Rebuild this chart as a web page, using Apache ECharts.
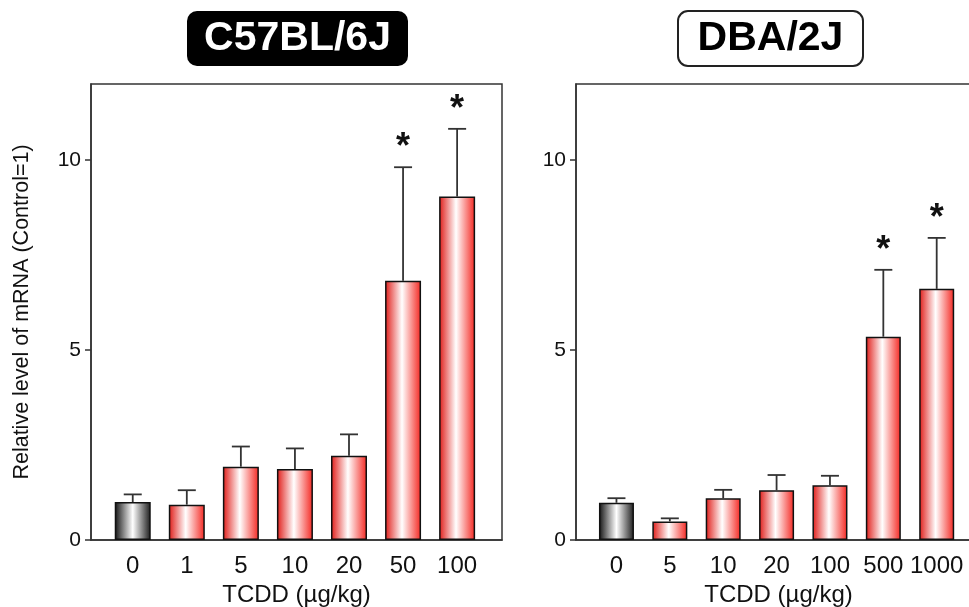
<!DOCTYPE html>
<html>
<head>
<meta charset="utf-8">
<script src="https://cdn.jsdelivr.net/npm/echarts@6/dist/echarts.min.js"></script>
<style>
html,body{margin:0;padding:0;background:#fff;}
#chart{width:969px;height:607px;}
</style>
</head>
<body>
<div id="chart"></div>
<script>
// ---- data ----
var leftTitle = 'C57BL/6J';
var rightTitle = 'DBA/2J';
var leftCategories = ['0', '1', '5', '10', '20', '50', '100'];
var leftMeans = [1.00, 0.93, 1.93, 1.87, 2.22, 6.82, 9.04];
var leftSD = [0.20, 0.38, 0.53, 0.54, 0.56, 2.99, 1.78];
var leftSig = [false, false, false, false, false, true, true];
var rightCategories = ['0', '5', '10', '20', '100', '500', '1000'];
var rightMeans = [0.98, 0.49, 1.10, 1.31, 1.44, 5.35, 6.61];
var rightSD = [0.12, 0.08, 0.22, 0.40, 0.25, 1.76, 1.34];
var rightSig = [false, false, false, false, false, true, true];
var yTicks = [0, 5, 10];
var yLabel = 'Relative level of mRNA (Control=1)';
var xLabel = 'TCDD (µg/kg)';

var FONT = '"Liberation Sans", Arial, sans-serif';
var chart = echarts.init(document.getElementById('chart'), null, {renderer: 'canvas'});

function redGrad() {
  return new echarts.graphic.LinearGradient(0, 0, 1, 0, [
    {offset: 0, color: '#e01a16'},
    {offset: 0.47, color: '#ffffff'},
    {offset: 1, color: '#f42620'}
  ]);
}
function blackGrad() {
  return new echarts.graphic.LinearGradient(0, 0, 1, 0, [
    {offset: 0, color: '#111111'},
    {offset: 0.5, color: '#ffffff'},
    {offset: 1, color: '#1a1a1a'}
  ]);
}

function barData(means) {
  return means.map(function (m, i) {
    return {
      value: [i, m],
      itemStyle: {color: i === 0 ? blackGrad() : redGrad()}
    };
  });
}
function errData(means, sd, sig) {
  return means.map(function (m, i) { return [i, m, m + sd[i], sig[i] ? 1 : 0]; });
}

function renderErr(params, api) {
  var x = api.value(0);
  var base = api.coord([x, api.value(1)]);
  var top = api.coord([x, api.value(2)]);
  var half = 9;
  var style = {stroke: '#333', lineWidth: 1.8};
  var children = [
    {type: 'line', shape: {x1: base[0], y1: base[1], x2: top[0], y2: top[1]}, style: style},
    {type: 'line', shape: {x1: top[0] - half, y1: top[1], x2: top[0] + half, y2: top[1]}, style: style}
  ];
  if (api.value(3) === 1) {
    children.push({
      type: 'text',
      style: {
        text: '*', x: top[0], y: top[1] - 1,
        textAlign: 'center', textVerticalAlign: 'bottom',
        fontSize: 36, fontWeight: 'bold', fontFamily: FONT, fill: '#111'
      }
    });
  }
  return {type: 'group', children: children};
}

function xAxisFor(gridIndex, cats, min) {
  return {
    type: 'value', gridIndex: gridIndex, min: min, max: 6.83,
    splitLine: {show: false},
    axisLine: {show: true, onZero: false, lineStyle: {color: '#333', width: 1.5}},
    axisTick: {show: false},
    axisLabel: {
      customValues: [0, 1, 2, 3, 4, 5, 6],
      formatter: function (v) { return cats[Math.round(v)]; },
      fontSize: 24, color: '#111', fontFamily: FONT, margin: 14
    },
    name: xLabel, nameLocation: 'middle', nameGap: 42,
    nameTextStyle: {fontSize: 24, color: '#111', fontFamily: FONT}
  };
}
function yAxisFor(gridIndex, withName) {
  var ax = {
    type: 'value', gridIndex: gridIndex, min: 0, max: 12, interval: 5,
    splitLine: {show: false},
    axisLine: {show: true, onZero: false, lineStyle: {color: '#333', width: 1.5}},
    axisTick: {show: true, length: 6, lineStyle: {color: '#333', width: 1.5}},
    axisLabel: {
      showMaxLabel: false,
      formatter: function (v) { return yTicks.indexOf(v) >= 0 ? String(v) : ''; },
      fontSize: 21, color: '#111', fontFamily: FONT, margin: 10
    }
  };
  if (withName) {
    ax.name = yLabel;
    ax.nameLocation = 'middle';
    ax.nameGap = 58;
    ax.nameTextStyle = {fontSize: 21.5, color: '#111', fontFamily: FONT};
  }
  return ax;
}

var option = {
  animation: false,
  backgroundColor: '#fff',
  grid: [
    {left: 91, top: 84, width: 411, height: 456, show: true, borderColor: '#333', borderWidth: 1.5, backgroundColor: 'transparent', containLabel: false, outerBoundsMode: 'none'},
    {left: 576, top: 84, width: 405, height: 456, show: true, borderColor: '#333', borderWidth: 1.5, backgroundColor: 'transparent', containLabel: false, outerBoundsMode: 'none'}
  ],
  xAxis: [xAxisFor(0, leftCategories, -0.772), xAxisFor(1, rightCategories, -0.758)],
  yAxis: [yAxisFor(0, true), yAxisFor(1, false)],
  graphic: [
    {type: 'rect', shape: {x: 187, y: 11, width: 221, height: 55, r: 10}, style: {fill: '#000'}},
    {type: 'text', x: 297.5, y: 39, style: {text: leftTitle, fill: '#fff', fontSize: 41, fontWeight: 'bold', fontFamily: FONT, textAlign: 'center', textVerticalAlign: 'middle'}},
    {type: 'rect', shape: {x: 678, y: 11, width: 185, height: 55, r: 10}, style: {fill: '#fff', stroke: '#222', lineWidth: 2}},
    {type: 'text', x: 770.5, y: 39, style: {text: rightTitle, fill: '#000', fontSize: 41, fontWeight: 'bold', fontFamily: FONT, textAlign: 'center', textVerticalAlign: 'middle'}}
  ],
  series: [
    {type: 'bar', xAxisIndex: 0, yAxisIndex: 0, barWidth: 36, data: barData(leftMeans),
      itemStyle: {borderColor: '#111', borderWidth: 1.5}},
    {type: 'custom', xAxisIndex: 0, yAxisIndex: 0, renderItem: renderErr, data: errData(leftMeans, leftSD, leftSig), z: 1},
    {type: 'bar', xAxisIndex: 1, yAxisIndex: 1, barWidth: 35, data: barData(rightMeans),
      itemStyle: {borderColor: '#111', borderWidth: 1.5}},
    {type: 'custom', xAxisIndex: 1, yAxisIndex: 1, renderItem: renderErr, data: errData(rightMeans, rightSD, rightSig), z: 1}
  ]
};
chart.setOption(option);
</script>
</body>
</html>
